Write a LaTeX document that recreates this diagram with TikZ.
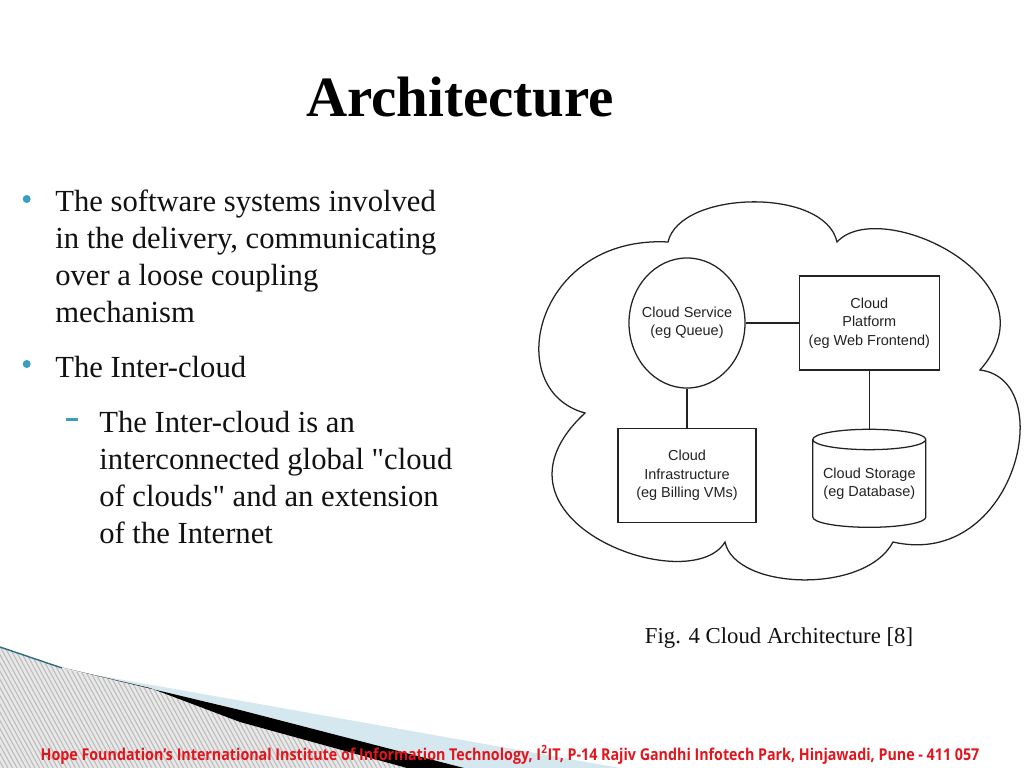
\documentclass[tikz,border=0pt]{standalone}
\usepackage{fontspec}
\setmainfont{Liberation Serif}
\newfontfamily\bodyfont{Liberation Serif}
\newfontfamily\diagfont{Liberation Sans}
\newfontfamily\footfont[FakeStretch=0.875]{Open Sans}
\usetikzlibrary{shapes.geometric, positioning}
\definecolor{ink}{HTML}{111111}
\definecolor{diagink}{HTML}{222222}
\definecolor{bullteal}{HTML}{3B9EBF}
\definecolor{swoosh}{HTML}{2D6E7E}
\definecolor{paleblue}{HTML}{D5E8EF}
\definecolor{hatchbg}{HTML}{E8E8E8}
\definecolor{hatchline}{HTML}{BDBDBD}
\definecolor{footred}{HTML}{E3151C}
\tikzset{
  slidetitle/.style = {font=\bfseries\fontsize{40.5}{48}\selectfont, text=black,
                       inner sep=0pt, anchor=base},
  bodytext/.style   = {font=\bodyfont\fontsize{21.8}{26.15}\selectfont, text=ink, align=left,
                       inner sep=0pt, anchor=base west},
  bulletdot/.style  = {circle, fill=bullteal, inner sep=0pt, minimum size=2mm},
  subdash/.style    = {rectangle, fill=bullteal, inner sep=0pt, minimum width=2.75mm,
                       minimum height=0.55mm},
  svcnode/.style    = {ellipse, draw=diagink, line width=0.9pt, inner ysep=0pt,
                       inner xsep=-1.25mm, minimum width=29mm, minimum height=32.5mm,
                       align=center, font=\diagfont\fontsize{10.3}{13}\selectfont, text=diagink},
  boxnode/.style    = {rectangle, draw=diagink, line width=0.9pt, inner sep=0pt,
                       minimum height=23.5mm, align=center,
                       font=\diagfont\fontsize{10.3}{13}\selectfont, text=diagink},
  dbnode/.style     = {cylinder, shape border rotate=90, aspect=0.22, draw=diagink,
                       line width=0.9pt, inner sep=0pt, minimum width=28.25mm,
                       minimum height=24.5mm, align=center,
                       font=\diagfont\fontsize{10.3}{13}\selectfont, text=diagink},
  link/.style       = {line width=0.9pt, draw=diagink},
  cloudline/.style  = {line width=0.9pt, draw=diagink},
  caption/.style    = {font=\fontsize{16.2}{19}\selectfont, text=ink, inner sep=0pt, anchor=base},
  footer/.style     = {font=\footfont\bfseries\fontsize{11.6}{14}\selectfont, text=footred,
                       inner sep=0pt, anchor=base},
}

\begin{document}
\begin{tikzpicture}[x=0.025cm, y=-0.025cm]
\useasboundingbox (0,0) rectangle (1024,768);

% ---- Swoosh in the lower left corner ----
\begin{scope}
  \clip (0,647) -- (60,668) -- (150,688) -- (240,722) -- (407,768) -- (0,768) -- cycle;
  \fill[hatchbg] (0,640) rectangle (420,768);
  \foreach \k in {-80,-75.5,...,420}
    \draw[hatchline, line width=0.8pt] (\k,640) -- ++(70,128);
\end{scope}
\fill[paleblue] (90,674) -- (620,768) -- (464,768) -- (240,710) -- cycle;
\fill[black] (60,667) -- (240,710) -- (464,768) -- (407,768) -- (240,722) -- (150,688) -- cycle;
\draw[swoosh, line width=1pt] (0,647) -- (62,668);

% ---- Title ----
\node[slidetitle] (title) at (460,117) {Architecture};

% ---- Bullets (multi-line nodes sit on their last baseline) ----
\node[bulletdot] (dot1) at (26.7,199) {};
\node[bodytext] (p1) at (55,322)
  {The software systems involved\\
   in the delivery, communicating\\
   over a loose coupling\\
   mechanism};
\node[bulletdot] (dot2) at (26.7,364) {};
\node[bodytext] (p2) at (55,377) {The Inter-cloud};
\node[subdash] (dash1) at (72,419.5) {};
\node[bodytext] (p3) at (99,543)
  {The Inter-cloud is an\\
   interconnected global "cloud\\
   of clouds" and an extension\\
   of the Internet};

% ---- Cloud outline ----
\draw[cloudline] (668,242)
  .. controls (680,190) and (825,187) .. (837,242)
  .. controls (880,195) and (1060,280) .. (980,370)
  .. controls (1060,380) and (1015,570) .. (893,542)
  .. controls (865,595) and (735,590) .. (725,542)
  .. controls (690,600) and (470,520) .. (585,413)
  .. controls (500,390) and (535,235) .. cycle;

% ---- Cloud parts ----
\node[svcnode] (svc) at (687,323) {Cloud Service\\(eg Queue)};
\node[boxnode, minimum width=35mm, right=13.25mm of svc] (plat)
  {Cloud\\Platform\\(eg Web Frontend)};
\node[boxnode, minimum width=34.5mm, below=9.75mm of svc] (infra)
  {Cloud\\Infrastructure\\(eg Billing VMs)};
\node[dbnode, below=14.5mm of plat] (store) {Cloud Storage\\(eg Database)};

\draw[link] (svc) -- (plat);
\draw[link] (svc) -- (infra);
\draw[link] (plat) -- (store);

% ---- Caption and footer ----
\node[caption] (cap) at (779,643) {Fig. 4 Cloud Architecture [8]};
\node[footer] (foot) at (510,760)
  {Hope Foundation’s International Institute of Information Technology, I\textsuperscript{2}IT, P-14 Rajiv Gandhi Infotech Park, Hinjawadi, Pune - 411 057};

\end{tikzpicture}
\end{document}
